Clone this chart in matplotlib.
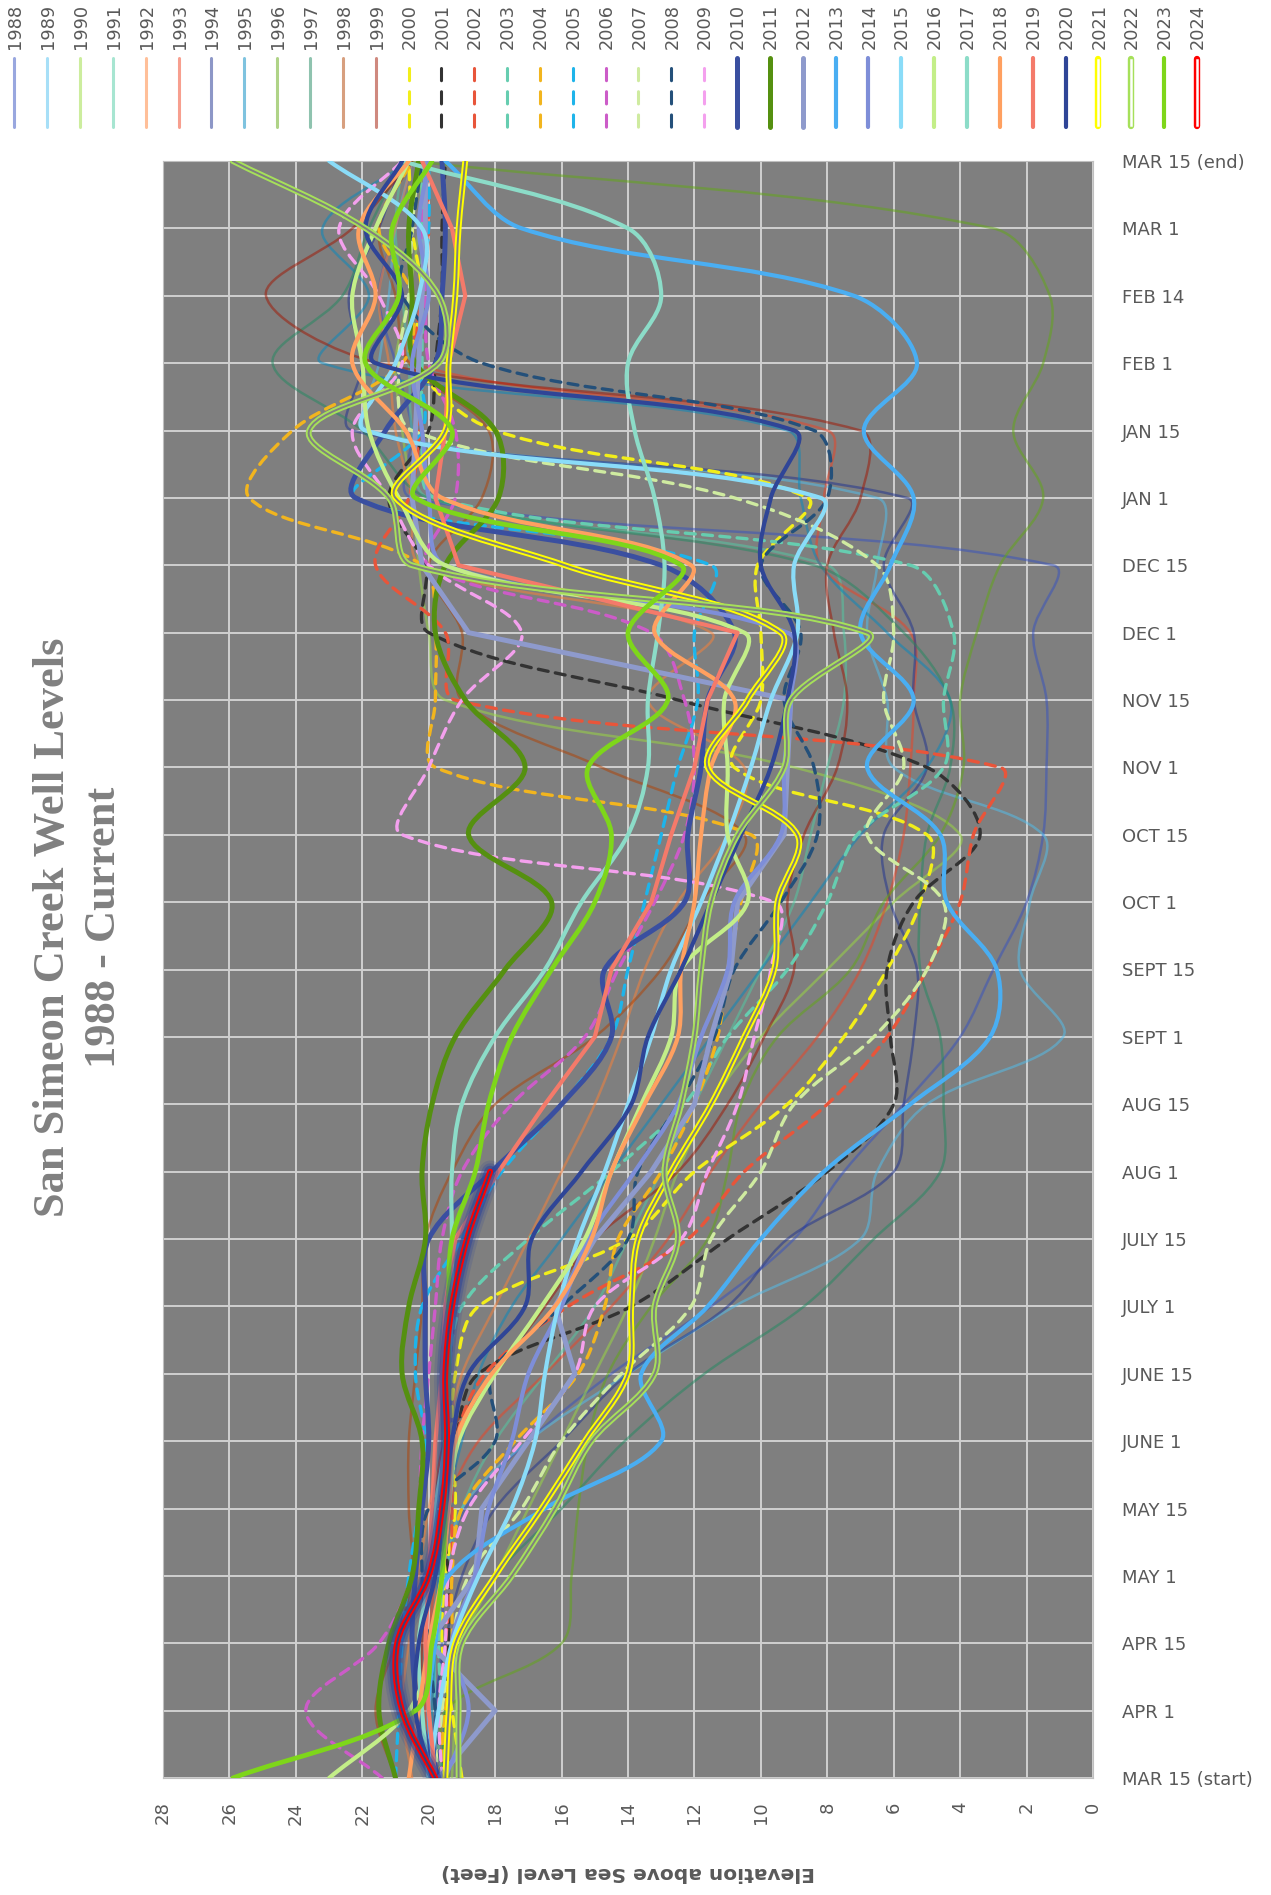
"""
San Simeon Creek well levels, 1988 - current (rotated Excel-style chart)
"""
import numpy as np
import matplotlib
matplotlib.use('Agg')
import matplotlib.pyplot as plt
from matplotlib.path import Path
from matplotlib.patches import PathPatch

dates = ['MAR 15 (start)', 'APR 1', 'APR 15', 'MAY 1', 'MAY 15', 'JUNE 1', 'JUNE 15',
         'JULY 1', 'JULY 15', 'AUG 1', 'AUG 15', 'SEPT 1', 'SEPT 15', 'OCT 1', 'OCT 15',
         'NOV 1', 'NOV 15', 'DEC 1', 'DEC 15', 'JAN 1', 'JAN 15', 'FEB 1', 'FEB 14',
         'MAR 1', 'MAR 15 (end)']
years = list(range(1988, 2025))

# elevation above sea level (ft), one value per date above
y1988 = [19.8, 19.8, 19.6, 19.5, 18.9, 17.0, 14.5, 11.5, 9.0, 7.5, 5.7, 4.0, 3.0, 2.0, 1.5, 1.4, 1.4, 1.8, 1.2, 20.5, 20.5, 21.0, 21.5, 21.0, 20.5]
y1989 = [19.8, 19.8, 19.8, 19.5, 19.0, 17.0, 14.0, 10.8, 7.0, 6.5, 5.0, 0.9, 2.2, 1.9, 1.5, 6.0, 6.2, 6.8, 6.5, 6.5, 21.8, 21.5, 21.2, 21.0, 20.5]
y1990 = [19.3, 19.2, 19.0, 18.0, 17.0, 16.0, 15.0, 14.0, 13.2, 12.5, 11.5, 10.0, 8.0, 6.0, 4.0, 9.0, 19.5, 20.0, 20.3, 20.5, 20.8, 21.0, 20.6, 20.3, 20.2]
y1991 = [19.6, 19.8, 19.8, 19.5, 19.0, 18.0, 16.5, 15.0, 14.0, 13.0, 12.0, 11.0, 10.0, 9.0, 8.5, 8.0, 7.5, 7.5, 8.0, 20.0, 20.5, 20.6, 20.8, 21.0, 20.8]
y1992 = [20.5, 20.8, 20.6, 20.3, 20.0, 19.5, 19.0, 18.0, 17.0, 16.0, 15.0, 14.2, 13.5, 12.5, 11.0, 10.5, 13.4, 11.5, 20.2, 20.5, 21.0, 21.2, 21.5, 21.0, 20.5]
y1993 = [20.0, 20.1, 20.0, 19.8, 19.5, 18.5, 16.5, 14.5, 12.8, 11.5, 10.0, 8.3, 7.0, 6.2, 5.7, 5.5, 5.4, 5.5, 8.2, 8.1, 8.0, 20.5, 20.3, 20.0, 20.2]
y1994 = [19.8, 19.8, 19.5, 19.0, 18.0, 16.0, 14.0, 11.0, 9.2, 6.0, 5.7, 5.4, 5.3, 6.1, 6.3, 5.0, 5.4, 5.4, 6.3, 5.6, 22.3, 22.0, 22.4, 21.5, 20.8]
y1995 = [19.9, 19.9, 19.8, 19.7, 19.5, 19.0, 18.5, 17.5, 16.0, 14.5, 13.0, 11.5, 10.0, 8.5, 7.0, 5.0, 4.3, 6.2, 8.2, 8.8, 9.2, 23.2, 21.8, 23.2, 20.6]
y1996 = [19.4, 19.5, 16.0, 15.7, 15.5, 15.2, 14.6, 13.3, 11.6, 11.0, 10.6, 9.5, 7.3, 6.3, 4.6, 3.9, 4.0, 3.5, 2.8, 1.5, 2.4, 1.5, 1.3, 3.0, 20.5]
y1997 = [19.6, 19.5, 19.2, 18.0, 16.0, 14.1, 11.7, 8.7, 6.6, 4.6, 4.5, 4.6, 5.2, 5.2, 5.0, 4.3, 4.3, 5.7, 8.4, 20.0, 22.0, 24.7, 22.6, 21.8, 20.8]
y1998 = [21.0, 21.6, 21.0, 20.5, 20.6, 20.6, 20.4, 20.2, 20.1, 19.3, 18.0, 15.0, 13.0, 11.8, 10.5, 14.8, 19.0, 19.0, 20.0, 18.4, 18.2, 20.6, 21.0, 21.5, 20.5]
y1999 = [20.0, 20.2, 20.2, 20.0, 19.8, 19.5, 18.0, 16.5, 15.0, 12.5, 11.0, 9.9, 9.0, 9.2, 8.7, 7.7, 7.4, 7.8, 8.0, 7.0, 7.0, 21.5, 24.9, 22.3, 20.5]
y2000 = [19.0, 19.3, 19.6, 19.5, 19.2, 19.3, 19.2, 18.5, 14.0, 12.0, 9.2, 7.5, 6.2, 5.2, 5.0, 10.8, 10.0, 10.0, 10.1, 8.6, 18.0, 20.4, 20.2, 20.5, 20.6]
y2001 = [19.6, 19.5, 19.4, 19.4, 19.6, 19.2, 18.5, 13.9, 11.0, 8.0, 6.0, 6.1, 6.2, 5.4, 3.4, 5.0, 12.5, 20.0, 20.1, 21.2, 20.0, 19.8, 19.6, 19.6, 19.5]
y2002 = [19.6, 19.6, 19.5, 19.3, 19.3, 19.2, 18.3, 15.8, 12.2, 10.5, 8.0, 6.2, 5.0, 4.0, 3.6, 2.8, 19.2, 19.5, 21.6, 20.6, 20.3, 20.5, 20.2, 20.0, 20.1]
y2003 = [19.5, 19.6, 19.7, 19.6, 19.6, 19.5, 19.4, 19.0, 17.0, 14.5, 12.3, 11.0, 9.2, 8.0, 7.1, 4.5, 4.5, 4.2, 5.5, 19.8, 20.2, 20.2, 20.2, 20.2, 20.2]
y2004 = [19.7, 19.5, 19.3, 19.3, 19.0, 17.4, 15.5, 14.7, 14.3, 13.0, 12.0, 11.3, 11.0, 10.6, 10.3, 19.8, 19.8, 19.8, 20.2, 25.4, 24.1, 20.8, 20.5, 21.5, 20.5]
y2005 = [21.0, 20.9, 20.8, 20.6, 20.3, 20.1, 20.4, 20.2, 19.0, 17.8, 16.0, 14.5, 14.0, 13.5, 13.0, 12.5, 11.9, 12.0, 11.5, 22.2, 20.2, 20.3, 20.2, 20.0, 20.0]
y2006 = [21.4, 23.7, 21.5, 20.5, 20.3, 20.2, 20.0, 19.8, 19.6, 19.0, 17.5, 15.3, 14.3, 13.2, 12.3, 12.0, 12.3, 13.3, 20.0, 19.2, 19.2, 20.0, 20.1, 20.2, 20.0]
y2007 = [19.8, 19.6, 19.3, 18.8, 17.2, 16.0, 14.2, 12.1, 11.5, 10.0, 9.0, 6.6, 5.0, 4.5, 6.8, 5.7, 6.3, 6.0, 6.5, 10.8, 20.5, 20.9, 20.6, 20.5, 20.3]
y2008 = [19.6, 19.8, 20.0, 20.2, 20.0, 18.0, 18.1, 16.0, 14.0, 13.7, 12.5, 11.4, 10.8, 9.4, 8.3, 8.4, 9.3, 8.8, 10.0, 8.0, 8.4, 18.4, 20.8, 20.5, 20.2]
y2009 = [19.6, 19.7, 19.5, 19.4, 18.8, 17.2, 15.6, 15.0, 12.4, 11.6, 10.7, 10.2, 9.7, 9.6, 20.8, 20.0, 19.0, 17.2, 20.0, 21.2, 22.3, 20.8, 21.5, 22.7, 20.8]
y2010 = [19.7, 20.3, 20.5, 20.4, 20.2, 20.0, 20.1, 20.1, 20.0, 18.1, 16.0, 14.5, 14.7, 12.3, 12.2, 11.8, 11.6, 10.8, 13.0, 22.2, 21.3, 19.8, 19.6, 19.5, 19.6]
y2011 = [21.0, 21.5, 21.2, 20.5, 20.3, 20.2, 20.8, 20.6, 20.1, 20.2, 19.9, 19.2, 17.7, 16.3, 18.8, 17.1, 18.9, 19.8, 19.5, 17.9, 18.0, 20.4, 20.5, 20.6, 20.3]
y2012 = [19.7, 18.0, 20.0, 18.6, 18.4, 17.0, 15.6, 16.2, 15.0, 13.3, 12.0, 11.5, 10.9, 10.7, 9.3, 9.2, 9.1, 18.8, 20.2, 20.5, 20.4, 20.3, 20.2, 20.1, 20.1]
y2013 = [19.8, 20.0, 19.8, 19.4, 16.5, 13.0, 13.6, 11.6, 10.0, 8.1, 5.5, 3.1, 2.9, 4.4, 4.6, 6.8, 5.4, 7.0, 6.1, 5.4, 6.9, 5.3, 7.2, 17.2, 19.5]
y2014 = [19.5, 18.8, 19.3, 18.6, 18.2, 17.5, 17.0, 16.0, 15.2, 13.8, 12.5, 11.8, 11.0, 10.8, 9.4, 9.3, 9.1, 9.2, 19.5, 20.0, 20.2, 20.5, 20.0, 20.3, 20.0]
y2015 = [20.0, 19.7, 19.3, 18.5, 17.5, 16.8, 16.5, 16.1, 15.5, 14.7, 14.0, 13.3, 12.7, 11.8, 11.0, 10.3, 9.7, 8.9, 9.0, 8.2, 21.9, 21.0, 20.3, 20.2, 23.0]
y2016 = [23.0, 20.6, 19.9, 19.6, 19.4, 19.1, 18.0, 16.6, 15.3, 14.5, 13.6, 12.7, 12.4, 10.4, 11.0, 11.0, 11.1, 10.5, 19.5, 20.9, 21.8, 22.0, 22.3, 21.6, 20.6]
y2017 = [20.0, 20.2, 20.3, 20.0, 19.8, 19.5, 19.4, 19.3, 19.3, 19.3, 19.0, 18.0, 16.5, 15.4, 14.0, 13.4, 13.4, 13.1, 12.9, 13.2, 13.8, 14.0, 13.0, 14.0, 20.8]
y2018 = [20.6, 20.3, 20.0, 19.6, 19.4, 19.2, 18.1, 16.2, 15.1, 14.5, 13.5, 12.5, 12.4, 12.0, 11.8, 11.5, 10.8, 13.2, 12.1, 19.6, 20.7, 22.3, 21.6, 22.1, 20.6]
y2019 = [19.8, 20.0, 20.1, 20.0, 19.9, 19.8, 19.6, 19.5, 19.2, 17.9, 16.5, 15.0, 14.5, 13.3, 12.7, 12.0, 11.6, 10.7, 19.1, 19.8, 19.5, 19.4, 18.9, 19.3, 20.2]
y2020 = [19.9, 20.4, 20.3, 19.8, 19.5, 19.3, 18.8, 17.1, 16.9, 15.4, 13.9, 13.4, 12.4, 11.5, 10.6, 9.7, 9.2, 9.0, 10.0, 9.7, 9.0, 21.6, 20.8, 21.9, 20.8]
y2021 = [19.5, 19.4, 19.2, 18.0, 16.6, 15.3, 14.0, 13.9, 13.7, 12.7, 11.5, 10.5, 9.6, 9.5, 8.9, 11.6, 10.4, 9.4, 15.9, 21.0, 19.5, 19.4, 19.2, 19.1, 18.9]
y2022 = [19.1, 19.1, 19.0, 17.5, 16.2, 15.1, 13.2, 13.2, 12.5, 12.9, 12.4, 12.0, 11.8, 11.5, 10.7, 9.3, 9.1, 6.8, 20.5, 21.2, 23.6, 19.7, 19.7, 21.9, 25.9]
y2023 = [25.9, 20.4, 19.9, 19.6, 19.5, 19.5, 19.4, 19.4, 19.3, 18.6, 18.2, 17.5, 16.3, 15.0, 14.5, 15.2, 12.8, 14.0, 12.4, 20.4, 19.3, 21.9, 20.9, 21.1, 19.9]
y2024 = [19.8, 20.8, 20.95, 20.0, 19.6, 19.45, 19.5, 19.3, 18.85, 18.15] + [None] * 15

levels = [y1988, y1989, y1990, y1991, y1992, y1993, y1994, y1995, y1996, y1997, y1998, y1999,
          y2000, y2001, y2002, y2003, y2004, y2005, y2006, y2007, y2008, y2009,
          y2010, y2011, y2012, y2013, y2014, y2015, y2016, y2017, y2018, y2019,
          y2020, y2021, y2022, y2023, y2024]

colors = ['#3551C1', '#51C1F1', '#9BDD3F', '#51CDA5', '#FF8135', '#F14121',
          '#1D3191', '#0189C1', '#61A911', '#218961', '#B14101', '#A11501',
          '#F2EE1A', '#333333', '#E8553A', '#66CDB0', '#F2B51E', '#1EB4EA',
          '#CC5CC8', '#CFEBA0', '#24507A', '#F4A0EE',
          '#3A4FA0', '#559010', '#8E9ACC', '#4AAEF2', '#7E8ED8', '#8ADCF8',
          '#C3EE88', '#8CDCC8', '#FFA060', '#F47A6A', '#2F4597',
          '#FFFF00', '#A6E05A', '#7ED61A', '#FF0000']

BG = '#7F7F7F'
TXT = '#595959'
# rough screen scale (px per ft, px per date step), used only to shape the smoothing
SX, SY = 33.2, 67.4


def style(yr):
    # (linewidth, alpha, dashed, smooth, double)
    if yr < 2000:
        return 1.8, 0.5, False, True, False
    if yr < 2010:
        return 2.4, 1.0, True, True, False
    if yr <= 2012:
        return 3.6, 1.0, False, yr != 2012, False
    if yr in (2021, 2022, 2024):
        return 4.2, 1.0, False, True, True
    if yr == 2023:
        return 3.4, 1.0, False, True, False
    return 3.0, 1.0, False, yr != 2019, False


def curve(xs, ys, smooth=True):
    # Excel-like smoothed line: bezier segments, tangents scaled by chord length
    pts = np.column_stack([xs, ys])
    scr = pts * [SX, SY]
    n = len(pts)
    verts, codes = [pts[0]], [Path.MOVETO]
    for k in range(n - 1):
        a, b = max(k - 1, 0), min(k + 2, n - 1)
        p0, p1, p2, p3 = pts[a], pts[k], pts[k + 1], pts[b]
        if smooth:
            d01 = np.hypot(*(scr[k] - scr[a]))
            d12 = np.hypot(*(scr[k + 1] - scr[k]))
            d23 = np.hypot(*(scr[b] - scr[k + 1]))
            f1 = d12 / (d01 + d12) / 3 if d01 + d12 > 0 else 0
            f2 = d12 / (d12 + d23) / 3 if d12 + d23 > 0 else 0
            verts += [p1 + (p2 - p0) * f1, p2 - (p3 - p1) * f2, p2]
            codes += [Path.CURVE4] * 3
        else:
            verts.append(p2)
            codes.append(Path.LINETO)
    return Path(verts, codes)


fig = plt.figure(figsize=(12.71, 18.95), dpi=100)
ax = fig.add_axes([163 / 1271, 117 / 1895, 930 / 1271, 1617 / 1895])
ax.set_facecolor(BG)

idx = np.arange(len(dates))
for k, (yr, vals) in enumerate(zip(years, levels)):
    v = np.array([np.nan if a is None else a for a in vals], dtype=float)
    ok = ~np.isnan(v)
    lw, alpha, dashed, smooth, double = style(yr)
    path = curve(v[ok], idx[ok], smooth)
    ls = (0, (3, 2.2)) if dashed else '-'
    z = 3 + k * 0.01
    if yr == 2024:
        for gw, ga in [(16, 0.18), (12, 0.3), (8.5, 0.55)]:
            ax.add_patch(PathPatch(path, fill=False, edgecolor='#2F4597', lw=gw, alpha=ga,
                                   capstyle='round', joinstyle='round', zorder=z))
    ax.add_patch(PathPatch(path, fill=False, edgecolor=colors[k], lw=lw, alpha=alpha,
                           linestyle=ls, capstyle='round', joinstyle='round', zorder=z))
    if double:
        inner = '#3A3F7A' if yr == 2024 else BG
        ax.add_patch(PathPatch(path, fill=False, edgecolor=inner, lw=1.4,
                               capstyle='round', joinstyle='round', zorder=z + 0.001))

ax.set_xlim(28, 0)
ax.set_ylim(0, 24)
ax.set_xticks(range(0, 29, 2))
ax.set_yticks(idx)
ax.set_yticklabels(dates)
ax.yaxis.tick_right()
ax.tick_params(axis='both', length=0, labelsize=13, colors=TXT)
ax.tick_params(axis='y', pad=21)
ax.tick_params(axis='x', pad=17, labelrotation=90)
ax.grid(True, color='#D0D0D0', lw=1.4, zorder=1)
ax.set_axisbelow(True)
for s in ax.spines.values():
    s.set_color('#BFBFBF')
ax.set_xlabel('Elevation above Sea Level (Feet)', rotation=180, fontsize=14.5,
              fontweight='bold', color=TXT, labelpad=28)

# title, rotated, on the left
fig.text(53 / 1271, 1 - 927 / 1895, 'San Simeon Creek Well Levels', rotation=90,
         ha='center', va='center', fontsize=32, fontweight='bold', color='#808080',
         family='Liberation Serif')
fig.text(104 / 1271, 1 - 927 / 1895, '1988 - Current', rotation=90,
         ha='center', va='center', fontsize=32, fontweight='bold', color='#808080',
         family='Liberation Serif')

# legend strip across the top
leg = fig.add_axes([0, 1 - 135 / 1895, 1, 135 / 1895])
leg.set_xlim(0, 1271)
leg.set_ylim(135, 0)
leg.axis('off')
for k, yr in enumerate(years):
    x = 14.3 + 32.85 * k
    leg.text(x + 1, 49, str(yr), rotation=90, ha='center', va='bottom',
             fontsize=12.8, color=TXT)
    lw, alpha, dashed, smooth, double = style(yr)
    if dashed:
        leg.plot([x, x], [68, 127], color=colors[k], lw=2.2, linestyle=(0, (4, 3.6)),
                 solid_capstyle='round', dash_capstyle='round')
    elif double:
        leg.plot([x, x], [59, 126], color=colors[k], lw=4.6, solid_capstyle='round')
        leg.plot([x, x], [60, 125], color='white', lw=1.8)
    else:
        w = 3.6 if 2010 <= yr <= 2012 else (3.0 if yr >= 2013 else 2.2)
        leg.plot([x, x], [58, 127], color=colors[k], lw=w, alpha=alpha,
                 solid_capstyle='round')

plt.savefig('out.png', dpi=100)
